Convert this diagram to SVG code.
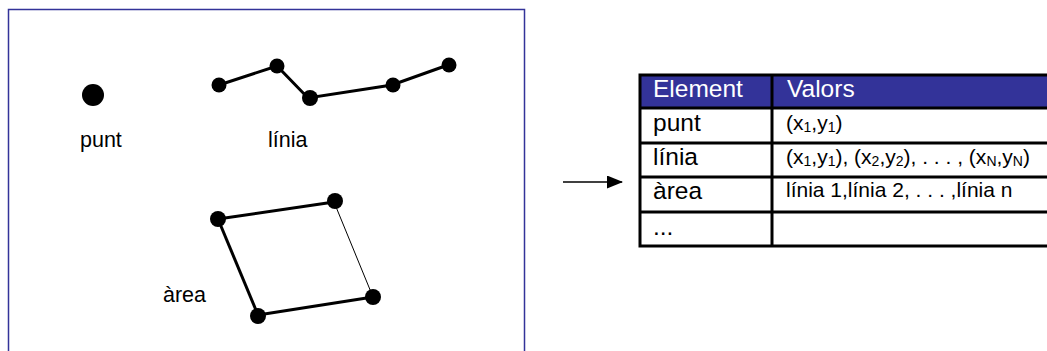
<svg xmlns="http://www.w3.org/2000/svg" width="1047" height="351" viewBox="0 0 1047 351">
<style>
text{font-family:"Liberation Sans",Arial,sans-serif;fill:#000}
.lbl{font-size:21.5px}
.big{font-size:24.5px}
.hd{font-size:24.5px;fill:#fff}
.sm{font-size:21px}
.sub{font-size:14px}
.dot{fill:#000}
.ln{stroke:#000;stroke-width:3;fill:none}
.grid{stroke:#000;stroke-width:3;fill:none}
</style>
<defs>
<marker id="ah" markerWidth="16" markerHeight="13" refX="15" refY="6.5" orient="auto" markerUnits="userSpaceOnUse" viewBox="0 0 16 13">
<path d="M0,0 L16,6.5 L0,13 Z" fill="#000"/>
</marker>
</defs>
<rect width="1047" height="351" fill="#fff"/>
<rect id="frame" x="8.5" y="9.5" width="516" height="350" fill="none" stroke="#333399" stroke-width="1.5"/>
<g id="punt">
<circle class="dot" cx="93" cy="95" r="11"/>
<text class="lbl" x="80" y="147">punt</text>
</g>
<g id="linia">
<polyline class="ln" points="219,85 277,66 308,98 392,85 448,65"/>
<circle class="dot" cx="219" cy="85" r="7.5"/>
<circle class="dot" cx="277" cy="66" r="7.5"/>
<circle class="dot" cx="310" cy="98" r="8"/>
<circle class="dot" cx="393" cy="85" r="7.5"/>
<circle class="dot" cx="449" cy="65" r="7.5"/>
<text class="lbl" x="268" y="147">línia</text>
</g>
<g id="area">
<line class="ln" x1="218" y1="219" x2="334" y2="202"/>
<line x1="334" y1="202" x2="373" y2="297" stroke="#000" stroke-width="1"/>
<line class="ln" x1="373" y1="297" x2="258" y2="315"/>
<line class="ln" x1="258" y1="315" x2="218" y2="219"/>
<circle class="dot" cx="218" cy="219" r="8"/>
<circle class="dot" cx="335" cy="201" r="8"/>
<circle class="dot" cx="373" cy="297" r="8"/>
<circle class="dot" cx="258" cy="316" r="8"/>
<text class="lbl" x="163" y="302">àrea</text>
</g>
<g id="connectors">
<line x1="563" y1="182" x2="622" y2="182" stroke="#000" stroke-width="1.5" marker-end="url(#ah)"/>
</g>
<g id="table">
<rect x="640" y="75" width="420" height="33" fill="#333399"/>
<rect class="grid" x="640" y="75" width="420" height="171"/>
<line class="grid" x1="640" y1="108" x2="1047" y2="108"/>
<line class="grid" x1="640" y1="143" x2="1047" y2="143"/>
<line class="grid" x1="640" y1="177" x2="1047" y2="177"/>
<line class="grid" x1="640" y1="212" x2="1047" y2="212"/>
<line class="grid" x1="772" y1="75" x2="772" y2="246"/>
<text class="hd" x="653" y="97">Element</text>
<text class="hd" x="787" y="97">Valors</text>
<text class="big" x="653" y="131">punt</text>
<text class="big" x="653" y="165">línia</text>
<text class="big" x="653" y="199">àrea</text>
<text class="big" x="653" y="235">...</text>
<text class="sm" x="786" y="130">(x<tspan class="sub" dy="2">1</tspan><tspan dy="-2">,y</tspan><tspan class="sub" dy="2">1</tspan><tspan dy="-2">)</tspan></text>
<text class="sm" x="786" y="164">(x<tspan class="sub" dy="2">1</tspan><tspan dy="-2">,y</tspan><tspan class="sub" dy="2">1</tspan><tspan dy="-2">), (x</tspan><tspan class="sub" dy="2">2</tspan><tspan dy="-2">,y</tspan><tspan class="sub" dy="2">2</tspan><tspan dy="-2">), . . . , (x</tspan><tspan class="sub" dy="2">N</tspan><tspan dy="-2">,y</tspan><tspan class="sub" dy="2">N</tspan><tspan dy="-2">)</tspan></text>
<text class="sm" x="786" y="197">línia 1,línia 2, . . . ,línia n</text>
</g>
</svg>
